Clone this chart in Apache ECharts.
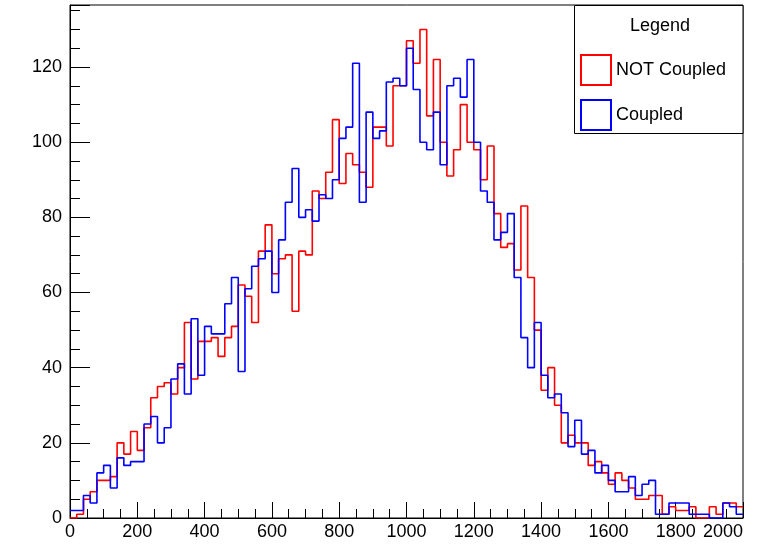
<!DOCTYPE html>
<html>
<head>
<meta charset="utf-8">
<script src="https://cdn.jsdelivr.net/npm/echarts@6/dist/echarts.min.js"></script>
<style>
  html, body { margin: 0; padding: 0; background: #fff; }
  #main { width: 766px; height: 547px; }
</style>
</head>
<body>
<div id="main"></div>
<script>
// histogram: 100 bins of width 20 from 0 to 2000
const binStart = 0
const binWidth = 20
const xTicks = [0, 200, 400, 600, 800, 1000, 1200, 1400, 1600, 1800, 2000]
const yTicks = [0, 20, 40, 60, 80, 100, 120]

const notCoupled = [
  0, 1, 5, 7, 10, 10, 11, 20, 17, 23,
  18, 24, 32, 35, 36, 33, 40, 52, 37, 47,
  47, 48, 43, 48, 51, 62, 59, 52, 71, 78,
  65, 69, 70, 55, 71, 70, 87, 85, 92, 106,
  89, 97, 94, 92, 88, 104, 104, 99, 115, 115,
  127, 121, 130, 107, 122, 100, 91, 98, 110, 100,
  98, 90, 99, 81, 72, 73, 66, 83, 64, 50,
  34, 40, 30, 20, 22, 20, 20, 14, 15, 12,
  9, 12, 10, 8, 5, 5, 6, 6, 1, 3,
  2, 2, 3, 0, 0, 3, 1, 4, 4, 3
]
const coupled = [
  2, 2, 6, 4, 12, 14, 8, 16, 14, 15,
  15, 25, 27, 20, 24, 37, 41, 33, 53, 38,
  51, 49, 49, 57, 64, 39, 61, 67, 69, 71,
  60, 74, 84, 93, 80, 82, 79, 86, 85, 90,
  101, 104, 121, 84, 108, 101, 103, 116, 117, 115,
  125, 114, 100, 98, 108, 94, 115, 117, 112, 122,
  100, 87, 84, 74, 76, 81, 64, 48, 40, 52,
  38, 32, 33, 28, 19, 26, 17, 18, 12, 14,
  10, 7, 7, 11, 6, 9, 10, 1, 1, 4,
  4, 4, 1, 1, 1, 0, 0, 4, 3, 1
]

// bin edges -> step points, last point closes the final bin
function toSteps(counts) {
  const pts = counts.map((c, i) => [binStart + i * binWidth, c])
  pts.push([binStart + counts.length * binWidth, counts[counts.length - 1]])
  return pts
}

const font = 'Liberation Sans, Arial, sans-serif'
const yMax = Math.max(...notCoupled, ...coupled) * 1.05

const chart = echarts.init(document.getElementById('main'), null, { renderer: 'canvas' })

const option = {
  animation: false,
  backgroundColor: '#fff',
  grid: {
    left: 70, right: 23, top: 5, bottom: 29,
    show: true, borderColor: '#000', borderWidth: 1,
    containLabel: false, outerBoundsMode: 'none'
  },
  legend: {
    orient: 'vertical',
    left: 580, top: 54,
    padding: 0,
    itemWidth: 30, itemHeight: 30, itemGap: 13,
    textStyle: { fontSize: 18, color: '#000', fontFamily: font },
    data: [
      { name: 'NOT Coupled', icon: 'rect', itemStyle: { color: '#fff', borderColor: '#ff0000', borderWidth: 2 } },
      { name: 'Coupled', icon: 'rect', itemStyle: { color: '#fff', borderColor: '#0000ff', borderWidth: 2 } }
    ]
  },
  graphic: [
    {
      type: 'rect', z: 3,
      shape: { x: 574.5, y: 5.5, width: 168.5, height: 128 },
      style: { fill: '#fff', stroke: '#000', lineWidth: 1 }
    },
    {
      type: 'text', z: 5,
      style: { text: 'Legend', x: 660, y: 26, align: 'center', verticalAlign: 'middle', fontSize: 18, fontFamily: font, fill: '#000' }
    }
  ],
  xAxis: {
    type: 'value',
    min: xTicks[0], max: xTicks[xTicks.length - 1], interval: xTicks[1] - xTicks[0],
    axisLine: { lineStyle: { color: '#000', width: 1 } },
    axisTick: { inside: true, length: 16, lineStyle: { color: '#000' } },
    minorTick: { show: true, splitNumber: 4, length: 9, lineStyle: { color: '#000' } },
    splitLine: { show: false },
    axisLabel: {
      fontSize: 18, color: '#000', fontFamily: font, margin: 5,
      alignMaxLabel: 'right',
      formatter: v => String(v)
    }
  },
  yAxis: [
    {
      type: 'value',
      min: yTicks[0], max: yMax, interval: yTicks[1] - yTicks[0],
      axisLine: { show: true, lineStyle: { color: '#000', width: 1 } },
      axisTick: { show: true, inside: true, length: 20, lineStyle: { color: '#000' } },
      splitLine: { show: false },
      axisLabel: {
        fontSize: 18, color: '#000', fontFamily: font, margin: 8,
        formatter: v => (yTicks.includes(v) ? String(v) : '')
      }
    },
    {
      // minor ticks every 5
      type: 'value', position: 'left',
      min: yTicks[0], max: yMax, interval: 5,
      axisLine: { show: false },
      axisTick: { show: true, inside: true, length: 10, lineStyle: { color: '#000' } },
      splitLine: { show: false },
      axisLabel: { show: false }
    }
  ],
  series: [
    {
      name: 'NOT Coupled',
      type: 'line',
      step: 'end',
      symbol: 'none',
      data: toSteps(notCoupled),
      lineStyle: { color: '#ff0000', width: 1.6 },
      itemStyle: { color: '#ff0000' }
    },
    {
      name: 'Coupled',
      type: 'line',
      step: 'end',
      symbol: 'none',
      data: toSteps(coupled),
      lineStyle: { color: '#0000ff', width: 1.6 },
      itemStyle: { color: '#0000ff' }
    }
  ]
}

chart.setOption(option)
</script>
</body>
</html>
